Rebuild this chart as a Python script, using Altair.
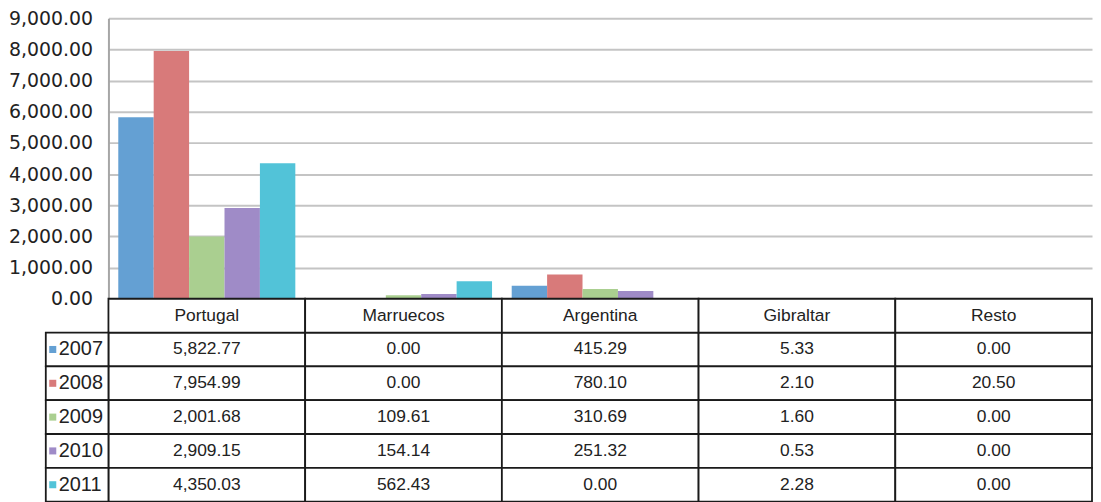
import altair as alt
import pandas as pd

countries = ["Portugal", "Marruecos", "Argentina", "Gibraltar", "Resto"]
years = ["2007", "2008", "2009", "2010", "2011"]
v2007 = [5822.77, 0.00, 415.29, 5.33, 0.00]
v2008 = [7954.99, 0.00, 780.10, 2.10, 20.50]
v2009 = [2001.68, 109.61, 310.69, 1.60, 0.00]
v2010 = [2909.15, 154.14, 251.32, 0.53, 0.00]
v2011 = [4350.03, 562.43, 0.00, 2.28, 0.00]
colors = ["#64A0D3", "#D87A7A", "#AACF90", "#9F8BC7", "#52C3D8"]

series = [v2007, v2008, v2009, v2010, v2011]
rows = []
for yr, vals in zip(years, series):
    for c, v in zip(countries, vals):
        rows.append({"country": c, "year": yr, "value": v,
                     "row": yr, "label": f"{v:,.2f}"})
df = pd.DataFrame(rows)

hdr = pd.DataFrame({"country": countries, "row": ["hdr"] * 5, "label": countries})
cells = pd.concat([df[["country", "row", "label"]], hdr], ignore_index=True)
yrs = pd.DataFrame({"year": years, "row": years})

row_order = ["hdr"] + years
FONT = "Liberation Sans"

bars = alt.Chart(df).mark_bar().encode(
    x=alt.X("country:N", sort=countries,
            scale=alt.Scale(domain=countries, paddingInner=0.1, paddingOuter=0.05),
            axis=None),
    xOffset=alt.XOffset("year:N", sort=years, scale=alt.Scale(domain=years)),
    y=alt.Y("value:Q", scale=alt.Scale(domain=[0, 9000], nice=False),
            axis=alt.Axis(values=list(range(0, 9001, 1000)), format=",.2f",
                          title=None, labelFont="DejaVu Sans", labelFontSize=19,
                          labelColor="#222222", labelPadding=16, ticks=False,
                          domainColor="#a6a6a6", domainWidth=2,
                          gridColor="#c4c4c4", gridWidth=2)),
    color=alt.Color("year:N", scale=alt.Scale(domain=years, range=colors), legend=None),
).properties(width=989, height=282)

xs = alt.X("country:N", sort=countries,
           scale=alt.Scale(domain=countries, paddingInner=0, paddingOuter=0), axis=None)
ys = alt.Y("row:N", scale=alt.Scale(domain=row_order, paddingInner=0, paddingOuter=0),
           axis=None)

cell_rect = alt.Chart(cells).mark_rect(fill="white", stroke="#1a1a1a", strokeWidth=1.8).encode(
    x=xs, y=ys)
cell_text = alt.Chart(cells).mark_text(font=FONT, fontSize=17.5, color="#222222").encode(
    x=xs, y=ys, text="label:N")
lab_rect = alt.Chart(yrs).mark_rect(fill="white", stroke="#1a1a1a", strokeWidth=1.8).encode(
    x=alt.value(-63), x2=alt.value(0), y=ys)
lab_sq = alt.Chart(yrs).mark_square(size=50, opacity=1).encode(
    x=alt.value(-56), y=ys,
    color=alt.Color("year:N", scale=alt.Scale(domain=years, range=colors), legend=None))
lab_text = alt.Chart(yrs).mark_text(font=FONT, fontSize=20, color="#222222", align="left").encode(
    x=alt.value(-50), y=ys, text="year:N")

table = alt.layer(cell_rect, cell_text, lab_rect, lab_sq, lab_text).properties(
    width=989, height=204)

chart = alt.vconcat(bars, table, spacing=0, bounds="flush").properties(
    padding=0).configure_view(stroke=None)

chart.save("out.html", embed_options={"renderer": "svg", "actions": False})
